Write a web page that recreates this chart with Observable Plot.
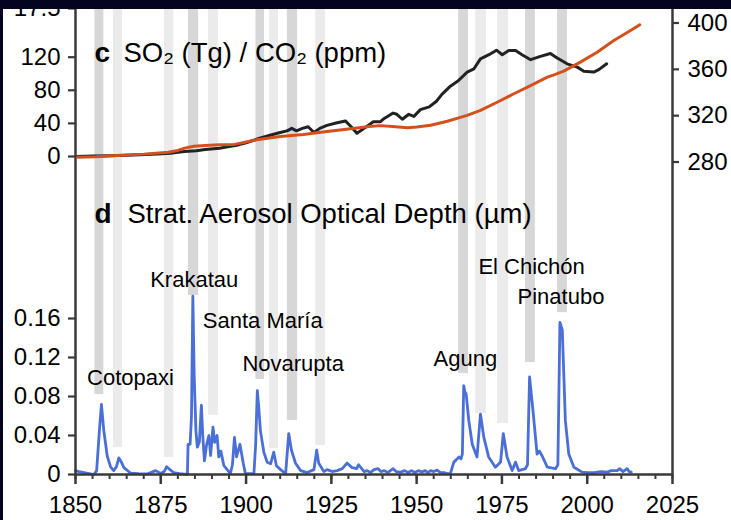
<!DOCTYPE html>
<html>
<head>
<meta charset="utf-8">
<script src="https://cdn.jsdelivr.net/npm/d3@7"></script>
<script src="https://cdn.jsdelivr.net/npm/@observablehq/plot@0.6"></script>
<style>
  html, body { margin: 0; padding: 0; background: #04041f; }
  #chart { position: relative; width: 731px; height: 520px; background: #fff; overflow: hidden; }
  #chart svg { position: absolute; left: 0; top: 0; }
  .edge { position: absolute; background: #04041f; }
</style>
</head>
<body>
<div id="chart"></div>
<script>
// ---- Tick values ----
const xTicks = [1850, 1875, 1900, 1925, 1950, 1975, 2000, 2025];
const xMinorTicks = d3.range(1850, 2026, 5);
const aodTicks = [0, 0.04, 0.08, 0.12, 0.16];
const so2Ticks = [0, 40, 80, 120];
const co2Ticks = [280, 320, 360, 400];
const panelBTicks = [17.5];

// ---- Eruption shading: interval (years), lower end (AOD units), major eruption? ----
const barStart = [1855.7, 1861.1, 1876.1, 1883.1, 1889.0, 1902.9, 1906.9, 1912.1, 1920.4, 1962.3, 1967.3, 1973.7, 1981.9, 1991.3];
const barEnd   = [1858.3, 1863.8, 1878.8, 1886.1, 1891.9, 1905.4, 1909.5, 1915.1, 1923.3, 1965.2, 1970.5, 1976.9, 1984.8, 1994.2];
const barFloor = [0.082, 0.0277, 0.0174, 0.1836, 0.0605, 0.0974, 0.0267, 0.0554, 0.0297, 0.1036, 0.0626, 0.0523, 0.1149, 0.166];
const barMajor = [true, false, false, true, false, true, false, true, false, true, false, false, true, true];

// ---- Eruption names ----
const eruptionNames = ["Cotopaxi", "Krakatau", "Santa María", "Novarupta", "Agung", "El Chichón", "Pinatubo"];
const labelYear  = [1866.1, 1884.8, 1904.9, 1913.8, 1964.3, 1983.7, 1992.3];
const labelLevel = [0.0995, 0.200, 0.157, 0.1138, 0.119, 0.213, 0.1826];

// ---- Stratospheric aerosol optical depth ----
const aodYear = [
  1850.0, 1851.0, 1852.5, 1854.0, 1855.4, 1856.2, 1857.0, 1857.6, 1858.3, 1859.3, 1860.3, 1861.2,
  1862.0, 1862.7, 1863.4, 1864.2, 1866.1, 1868.5, 1871.0, 1873.5, 1875.0, 1876.0, 1876.7, 1877.7,
  1878.8, 1880.5, 1882.8, 1883.0, 1883.6, 1884.0, 1884.4, 1884.8, 1885.3, 1885.7, 1886.3, 1886.9,
  1887.3, 1887.8, 1888.4, 1889.1, 1889.6, 1890.3, 1890.8, 1891.5, 1892.0, 1892.6, 1893.5, 1895.4,
  1896.0, 1896.6, 1897.2, 1898.2, 1899.2, 1899.8, 1901.0, 1902.3, 1902.8, 1903.3, 1903.7, 1904.2,
  1905.2, 1906.2, 1907.2, 1908.1, 1908.9, 1910.1, 1911.6, 1912.5, 1913.3, 1914.5, 1916.0, 1917.9,
  1919.9, 1920.7, 1921.3, 1922.8, 1923.8, 1925.2, 1926.7, 1928.2, 1929.6, 1931.1, 1932.4, 1933.0,
  1934.6, 1935.5, 1936.5, 1937.5, 1938.7, 1939.5, 1940.5, 1941.5, 1942.3, 1943.1, 1944.0, 1945.3,
  1946.5, 1947.5, 1948.5, 1949.5, 1950.5, 1951.5, 1952.5, 1953.3, 1954.1, 1955.0, 1956.0, 1957.0,
  1958.0, 1959.0, 1959.9, 1960.9, 1961.6, 1962.4, 1963.0, 1963.4, 1963.8, 1964.2, 1964.5, 1965.3,
  1966.3, 1967.7, 1968.7, 1969.2, 1969.7, 1971.1, 1973.1, 1974.6, 1975.4, 1976.5, 1978.0, 1979.0,
  1979.9, 1981.9, 1982.5, 1983.1, 1984.2, 1985.3, 1986.0, 1986.8, 1988.3, 1990.7, 1991.4, 1992.0,
  1992.7, 1993.6, 1994.6, 1996.1, 1998.5, 2000.0, 2002.0, 2004.0, 2005.9, 2007.0, 2008.8, 2009.5,
  2010.5, 2011.7, 2012.3, 2012.9
];
const aodValue = [
  0.004, 0.003, 0.002, 0.001, 0.000, 0.004, 0.045, 0.072, 0.045, 0.019, 0.0075, 0.004,
  0.008, 0.017, 0.013, 0.007, 0.0015, 0.0008, 0.0005, 0.004, 0.001, 0.003, 0.008, 0.005,
  0.002, 0.0008, 0.000, 0.031, 0.031, 0.060, 0.183, 0.100, 0.045, 0.028, 0.033, 0.071,
  0.040, 0.014, 0.030, 0.040, 0.0195, 0.0485, 0.033, 0.040, 0.018, 0.024, 0.009, 0.001,
  0.010, 0.038, 0.018, 0.031, 0.011, 0.001, 0.001, 0.001, 0.030, 0.086, 0.070, 0.045,
  0.023, 0.0126, 0.011, 0.023, 0.009, 0.005, 0.001, 0.042, 0.025, 0.0115, 0.004, 0.002,
  0.005, 0.025, 0.0115, 0.003, 0.005, 0.003, 0.004, 0.006, 0.0117, 0.007, 0.006, 0.010,
  0.003, 0.004, 0.002, 0.005, 0.006, 0.003, 0.004, 0.002, 0.004, 0.006, 0.003, 0.0025,
  0.004, 0.002, 0.004, 0.002, 0.004, 0.0025, 0.004, 0.002, 0.004, 0.003, 0.0045, 0.002,
  0.002, 0.001, 0.001, 0.0127, 0.015, 0.018, 0.016, 0.021, 0.091, 0.084, 0.083, 0.055,
  0.031, 0.018, 0.062, 0.050, 0.038, 0.018, 0.0075, 0.0127, 0.042, 0.018, 0.004, 0.0127,
  0.004, 0.006, 0.010, 0.100, 0.062, 0.021, 0.024, 0.019, 0.0075, 0.006, 0.010, 0.156,
  0.148, 0.055, 0.021, 0.0075, 0.0024, 0.002, 0.002, 0.003, 0.0024, 0.004, 0.004, 0.006,
  0.003, 0.006, 0.003, 0.0024
];

// ---- SO2 emissions (Tg) ----
const so2Year = [
  1850.6, 1855, 1860, 1865, 1869, 1874, 1877.9, 1880, 1882, 1885.4, 1888, 1892.2, 1895, 1897.7,
  1900, 1901.8, 1904, 1907.3, 1910, 1912, 1913.4, 1914.8, 1916.5, 1918.2, 1919.9, 1921.6, 1923.7,
  1926.4, 1929.1, 1930.8, 1932.5, 1934.6, 1937.3, 1939.4, 1940.5, 1943.1, 1944.2, 1945.8, 1947.7,
  1949.2, 1951.1, 1953.7, 1955.8, 1957.4, 1959.9, 1962.2, 1964.8, 1966.8, 1968.7, 1971.2, 1973.4,
  1975.1, 1977, 1979, 1980.9, 1983.4, 1986.3, 1989.2, 1991.2, 1994.1, 1997.1, 1999, 2001.9,
  2003.4, 2005.7
];
const so2Value = [
  0, 0.5, 1, 1.5, 2, 3, 4, 5, 6, 7, 8.5, 10, 12, 14,
  16.5, 19, 22, 26, 29, 31, 34, 31, 34, 36, 29, 34, 37.6,
  40.4, 43, 36, 28, 34, 42, 42, 46, 52.5, 51, 45, 51,
  48.5, 56.6, 60, 66.7, 75, 85, 91.5, 102, 106, 118, 123, 128.5,
  123, 128, 128, 123, 117, 121, 124.5, 119, 112, 108, 103, 102,
  105, 112
];

// ---- Atmospheric CO2 (ppm) ----
const co2Year = [
  1850.6, 1856, 1862.2, 1870, 1877.2, 1880, 1882, 1884.7, 1888, 1892.2, 1896.3, 1900, 1903.2,
  1910, 1916.8, 1923.7, 1931.9, 1936, 1939.4, 1943, 1947.2, 1950, 1954.1, 1959, 1964.8, 1968.7,
  1973.6, 1978.5, 1983.4, 1988.3, 1990.5, 1993.1, 1998, 2002.9, 2007.8, 2012.7, 2015.4
];
const co2Value = [
  284.1, 284.6, 285.6, 286.8, 288.5, 290, 292, 293.6, 294.2, 294.8, 295, 297.2, 299.2,
  302, 303.7, 306.3, 309.2, 310.6, 311.4, 310.6, 309.5, 310.3, 311.8, 315.2, 320.2, 324.5,
  331.6, 338.9, 346, 353.2, 355.5, 358.4, 366.2, 374.8, 384.9, 393.6, 398.5
];

// ---- Tables for the marks ----
const bars = barStart.map((s, i) => ({start: s, end: barEnd[i], floor: barFloor[i], major: barMajor[i]}));
const eruptions = eruptionNames.map((n, i) => ({name: n, year: labelYear[i], level: labelLevel[i]}));
const aod = aodYear.map((t, i) => ({year: t, value: aodValue[i]}));
const so2 = so2Year.map((t, i) => ({year: t, value: so2Value[i]}));
const co2 = co2Year.map((t, i) => ({year: t, value: co2Value[i]}));

// ---- Shared layout and style ----
const FONT = "'Liberation Sans', Arial, Helvetica, sans-serif";
const AXIS = "#3a3a3a";
const common = {
  width: 731, height: 520,
  marginLeft: 75, marginRight: 59, marginTop: 0, marginBottom: 46,
  style: {background: "transparent", fontFamily: FONT, fontSize: "24px", color: "#000", overflow: "visible"}
};
const xScale = {domain: [1850, 2025], axis: null, label: null};

// Lower panel: shading, aerosol optical depth, shared time axis
const lowerPanel = Plot.plot({
  ...common, x: xScale,
  y: {domain: [0, 0.16], range: [474, 318], axis: null, label: null},
  marks: [
    Plot.rect(bars, {x1: "start", x2: "end", y1: "floor", y2: 1, fill: d => d.major ? "#d7d7d7" : "#ebebeb", clip: true}),
    Plot.line(aod, {x: "year", y: "value", stroke: "#4a6fd6", strokeWidth: 2.8}),
    Plot.ruleX([1850, 2025], {stroke: AXIS, strokeWidth: 2.5}),
    Plot.ruleY([0], {stroke: AXIS, strokeWidth: 2.5}),
    Plot.axisX({ticks: xMinorTicks, tickSize: 5, tickFormat: () => "", stroke: AXIS, strokeWidth: 2}),
    Plot.axisX({ticks: xTicks, tickSize: 10, tickPadding: 11, stroke: AXIS, strokeWidth: 2.5, fill: "#000", tickFormat: d => String(d), label: null}),
    Plot.axisY({ticks: aodTicks, tickSize: 7, tickPadding: 8, stroke: AXIS, strokeWidth: 2.2, fill: "#000",
      tickFormat: d => d === 0 ? "0" : d3.format(".2f")(d), label: null}),
    Plot.text(eruptions, {x: "year", y: "level", text: "name", fontSize: 22, fill: "#000"}),
    Plot.text(["d"], {text: d => d, frameAnchor: "top-left", dx: 19, dy: 214, fontSize: 28, fontWeight: "bold", textAnchor: "start", lineAnchor: "middle", fill: "#000"}),
    Plot.text(["Strat. Aerosol Optical Depth (µm)"], {text: d => d, frameAnchor: "top-left", dx: 52, dy: 214, fontSize: 27.5, textAnchor: "start", lineAnchor: "middle", fill: "#000"})
  ]
});

// Upper panel: SO2 on the left axis
const upperSO2 = Plot.plot({
  ...common, x: xScale,
  y: {domain: [0, 120], range: [156, 56.7], axis: null, label: null},
  marks: [
    Plot.line(so2, {x: "year", y: "value", stroke: "#222", strokeWidth: 3}),
    Plot.axisY({ticks: so2Ticks, tickSize: 7, tickPadding: 8, stroke: AXIS, strokeWidth: 2.2, fill: "#000", label: null}),
    Plot.text(["c"], {text: d => d, frameAnchor: "top-left", dx: 19, dy: 53, fontSize: 28, fontWeight: "bold", textAnchor: "start", lineAnchor: "middle", fill: "#000"}),
    Plot.text(["SO₂ (Tg) / CO₂ (ppm)"], {text: d => d, frameAnchor: "top-left", dx: 48, dy: 53, fontSize: 27.5, textAnchor: "start", lineAnchor: "middle", fill: "#000"})
  ]
});

// Upper panel: CO2 on the right axis
const upperCO2 = Plot.plot({
  ...common, x: xScale,
  y: {domain: [280, 400], range: [161.5, 22.5], axis: null, label: null},
  marks: [
    Plot.line(co2, {x: "year", y: "value", stroke: "#d4511e", strokeWidth: 3}),
    Plot.axisY({anchor: "right", ticks: co2Ticks, tickSize: 6, tickPadding: 9, stroke: AXIS, strokeWidth: 2.2, fill: "#000", label: null})
  ]
});

// Bottom tick of the panel above
const panelB = Plot.plot({
  ...common, x: xScale,
  y: {domain: [0, 17.5], range: [300, 8], axis: null, label: null},
  marks: [
    Plot.axisY({ticks: panelBTicks, tickSize: 7, tickPadding: 8, stroke: AXIS, strokeWidth: 2.2, fill: "#000",
      tickFormat: d3.format(".1f"), label: null})
  ]
});

const chartEl = document.getElementById("chart");
for (const p of [lowerPanel, upperSO2, upperCO2, panelB]) chartEl.append(p);

// dark border of the figure
const edgeTop = document.createElement("div");
edgeTop.className = "edge";
Object.assign(edgeTop.style, {left: "0px", top: "0px", width: "731px", height: "9px"});
const edgeLeft = document.createElement("div");
edgeLeft.className = "edge";
Object.assign(edgeLeft.style, {left: "0px", top: "0px", width: "3px", height: "520px"});
chartEl.append(edgeTop, edgeLeft);
</script>
</body>
</html>
